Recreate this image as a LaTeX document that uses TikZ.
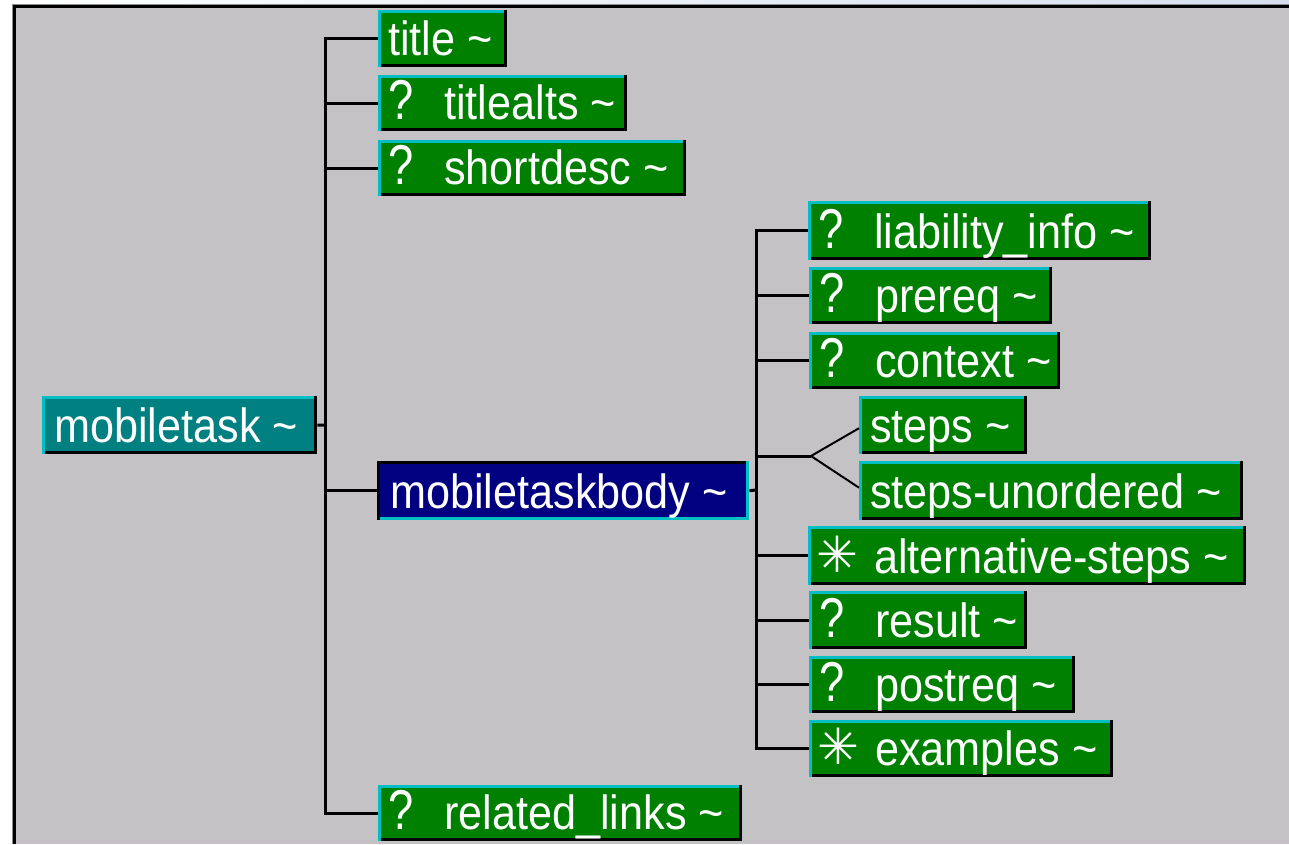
\documentclass[tikz,border=0pt]{standalone}
\usepackage{fontspec}
\usepackage{graphicx}
\newfontfamily\uifont[FakeStretch=0.9]{Liberation Sans}
\newfontfamily\symfont{DejaVu Sans}

\definecolor{panelgray}{RGB}{196,194,197}
\definecolor{titleblue}{RGB}{214,224,240}
\definecolor{elgreen}{RGB}{0,128,0}
\definecolor{elteal}{RGB}{0,128,128}
\definecolor{elnavy}{RGB}{0,0,128}
\definecolor{bevelcyan}{RGB}{0,190,195}

% occurrence markers in front of an element name
\newcommand\optmark{\makebox[56pt][l]{\scalebox{1.05}[1.17]{?}}}
\newcommand\manymark{\makebox[56pt][l]{\hspace{-2pt}\raisebox{1pt}{\symfont\bfseries\fontsize{50}{50}\selectfont ✳}}}

% 3D edge of an element box: light colour on top/left, dark on right/bottom
\newcommand\bevel[3]{%
  \fill[#2] (#1.north west) rectangle ([xshift=3pt]#1.south west);
  \fill[#2] (#1.north west) rectangle ([yshift=-3pt]#1.north east);
  \fill[#3] ([xshift=-3pt]#1.north east) rectangle (#1.south east);
  \fill[#3] ([xshift=3pt]#1.south west) rectangle ([yshift=3pt]#1.south east);
}

\begin{document}
\begin{tikzpicture}[x=1pt, y=-1pt,
  elbox/.style={rectangle, inner sep=0pt, anchor=north west, fill=elgreen},
  lbl/.style={anchor=base west, inner sep=0pt, text=white,
    font=\uifont\fontsize{48}{48}\selectfont},
  conn/.style={line width=3pt, black},
  choice/.style={line width=2pt, black}]

\useasboundingbox (0,0) rectangle (1289,844);

% window frame and panel
\fill[white] (0,0) rectangle (1289,844);
\shade[left color=white, right color=titleblue] (0,0) rectangle (1289,4);
\fill[panelgray] (12,4) rectangle (1289,844);
\fill[black!45] (12,4) rectangle (1289,5);
\fill[black!45] (12,4) rectangle (13,844);
\fill[black] (13,5) rectangle (1289,7.5);
\fill[black] (13,5) rectangle (15.5,844);

% element boxes
\node[elbox, fill=elteal, minimum width=275pt, minimum height=58pt] (mt) at (42,396) {};
\node[elbox, minimum width=129pt, minimum height=57pt] (title) at (378,10) {};
\node[elbox, minimum width=249pt, minimum height=56pt] (titlealts) at (378,75) {};
\node[elbox, minimum width=308pt, minimum height=56pt] (shortdesc) at (378,140) {};
\node[elbox, fill=elnavy, minimum width=372pt, minimum height=59pt] (body) at (377,461) {};
\node[elbox, minimum width=364pt, minimum height=56pt] (rel) at (378,785) {};
\node[elbox, minimum width=343pt, minimum height=59pt] (liab) at (808,201) {};
\node[elbox, minimum width=243pt, minimum height=57pt] (prereq) at (809,267) {};
\node[elbox, minimum width=251pt, minimum height=57pt] (context) at (809,332) {};
\node[elbox, minimum width=168pt, minimum height=58pt] (steps) at (859,396) {};
\node[elbox, minimum width=384pt, minimum height=59pt] (stepsu) at (859,461) {};
\node[elbox, minimum width=438pt, minimum height=59pt] (alt) at (808,526) {};
\node[elbox, minimum width=218pt, minimum height=58pt] (result) at (809,591) {};
\node[elbox, minimum width=266pt, minimum height=57pt] (postreq) at (809,656) {};
\node[elbox, minimum width=304pt, minimum height=57pt] (examples) at (809,720) {};

\foreach \n in {mt,title,titlealts,shortdesc,rel,liab,prereq,context,steps,stepsu,alt,result,postreq,examples}
  {\bevel{\n}{bevelcyan}{black}}
\bevel{body}{black}{bevelcyan}

% element names
\node[lbl] (mt-t) at ([shift={(12pt,12pt)}]mt.south west) {mobiletask \textasciitilde};
\node[lbl] (title-t) at ([shift={(10pt,12pt)}]title.south west) {title \textasciitilde};
\node[lbl] (titlealts-t) at ([shift={(10pt,12pt)}]titlealts.south west) {\optmark titlealts \textasciitilde};
\node[lbl] (shortdesc-t) at ([shift={(10pt,12pt)}]shortdesc.south west) {\optmark shortdesc \textasciitilde};
\node[lbl] (body-t) at ([shift={(13pt,12pt)}]body.south west) {mobiletaskbody \textasciitilde};
\node[lbl] (rel-t) at ([shift={(10pt,12pt)}]rel.south west) {\optmark related\_links \textasciitilde};
\node[lbl] (liab-t) at ([shift={(10pt,12pt)}]liab.south west) {\optmark liability\_info \textasciitilde};
\node[lbl] (prereq-t) at ([shift={(10pt,12pt)}]prereq.south west) {\optmark prereq \textasciitilde};
\node[lbl] (context-t) at ([shift={(10pt,12pt)}]context.south west) {\optmark context \textasciitilde};
\node[lbl] (steps-t) at ([shift={(11pt,12pt)}]steps.south west) {steps \textasciitilde};
\node[lbl] (stepsu-t) at ([shift={(11pt,12pt)}]stepsu.south west) {steps-unordered \textasciitilde};
\node[lbl] (alt-t) at ([shift={(10pt,12pt)}]alt.south west) {\manymark alternative-steps \textasciitilde};
\node[lbl] (result-t) at ([shift={(10pt,12pt)}]result.south west) {\optmark result \textasciitilde};
\node[lbl] (postreq-t) at ([shift={(10pt,12pt)}]postreq.south west) {\optmark postreq \textasciitilde};
\node[lbl] (examples-t) at ([shift={(10pt,12pt)}]examples.south west) {\manymark examples \textasciitilde};

% mobiletask content model
\coordinate (sp1) at (325.5,425);
\draw[conn] (mt.east) -- (sp1);
\draw[conn] ([yshift=1.5pt]sp1 |- title.west) -- ([yshift=-1.5pt]sp1 |- rel.west);
\foreach \n in {title,titlealts,shortdesc,body,rel}
  \draw[conn] (sp1 |- \n.west) -- (\n.west);

% mobiletaskbody content model
\coordinate (sp2) at (756,490);
\draw[conn] (body.east) -- (sp2);
\draw[conn] ([yshift=1.5pt]sp2 |- liab.west) -- ([yshift=-1.5pt]sp2 |- examples.west);
\foreach \n in {liab,prereq,context,alt,result,postreq,examples}
  \draw[conn] (sp2 |- \n.west) -- (\n.west);

% choice between steps and steps-unordered
\coordinate (ch) at (811,456);
\draw[conn] (sp2 |- ch) -- (ch);
\draw[choice] (ch) -- ([yshift=-3pt]steps.west);
\draw[choice] (ch) -- ([yshift=3pt]stepsu.west);

\end{tikzpicture}
\end{document}
